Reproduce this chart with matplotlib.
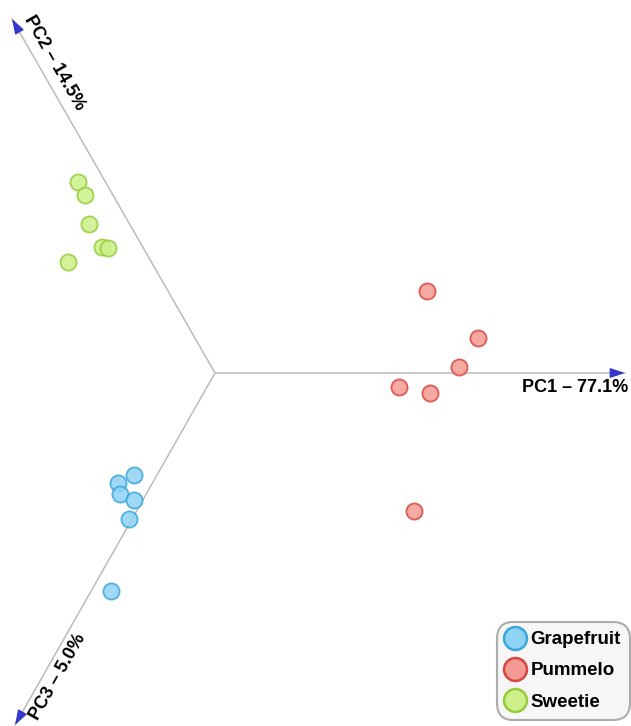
import matplotlib.pyplot as plt
from matplotlib.lines import Line2D

plt.rcParams['font.family'] = ['Liberation Sans', 'DejaVu Sans']

# projected PCA scores (screen plane, origin at centre of the three axes)
groups = ['Grapefruit', 'Pummelo', 'Sweetie']
grapefruit_x = [-81, -97, -95, -81, -86, -104]
grapefruit_y = [-102, -110, -121, -127, -146, -218]
pummelo_x = [212, 263, 244, 184, 215, 199]
pummelo_y = [82, 35, 6, -14, -20, -138]
sweetie_x = [-137, -130, -126, -113, -107, -147]
sweetie_y = [191, 178, 149, 126, 125, 111]

axis_labels = ['PC1 \u2013 77.1%', 'PC2 \u2013 14.5%', 'PC3 \u2013 5.0%']
axis_tips = [(410, 0), (-203, 354), (-200, -352)]

face_colors = ['#8fd3f4', '#f59a92', '#cdf08a']
edge_colors = ['#3aa6dc', '#d5473f', '#96cc3a']

fig = plt.figure(figsize=(6.31, 7.26), dpi=100)
ax = fig.add_axes([0, 0, 1, 1])
ax.set_xlim(-215, 416)
ax.set_ylim(-353, 373)
ax.axis('off')

# axes of the biplot
for tx, ty in axis_tips:
    ax.plot([0, tx], [0, ty], color='#bbbbbb', lw=1.1, zorder=1)
    ax.annotate('', xy=(tx, ty), xytext=(tx * 0.97, ty * 0.97),
                arrowprops=dict(arrowstyle='-|>,head_length=0.9,head_width=0.3',
                                color='#3636c8', lw=1, shrinkA=0, shrinkB=0),
                zorder=2)

ax.text(360, -15, axis_labels[0], fontsize=13, fontweight='bold',
        ha='center', va='center')
ax.text(-161, 310, axis_labels[1], fontsize=13, fontweight='bold',
        ha='center', va='center', rotation=-60.2, rotation_mode='anchor')
ax.text(-157, -304, axis_labels[2], fontsize=13, fontweight='bold',
        ha='center', va='center', rotation=60.4, rotation_mode='anchor')

xs = [grapefruit_x, pummelo_x, sweetie_x]
ys = [grapefruit_y, pummelo_y, sweetie_y]
for i in range(3):
    ax.scatter(xs[i], ys[i], s=135, c=face_colors[i], edgecolors=edge_colors[i],
               linewidths=1.3, alpha=0.85, zorder=3)

handles = [Line2D([], [], ls='', marker='o', markersize=16.5,
                  markerfacecolor=face_colors[i], markeredgecolor=edge_colors[i],
                  markeredgewidth=1.8) for i in range(3)]
leg = ax.legend(handles, groups, loc='lower right',
                bbox_to_anchor=(630 / 631, 6 / 726),
                prop={'weight': 'bold', 'size': 13.5},
                frameon=True, fancybox=True, handletextpad=0.3,
                handlelength=1.0, labelspacing=0.75, borderpad=0.5,
                borderaxespad=0)
frame = leg.get_frame()
frame.set_edgecolor('#999999')
frame.set_facecolor('#f4f4f4')
frame.set_linewidth(1.5)
frame.set_boxstyle('round,pad=0,rounding_size=0.9')

fig.savefig('out.png', dpi=100)
